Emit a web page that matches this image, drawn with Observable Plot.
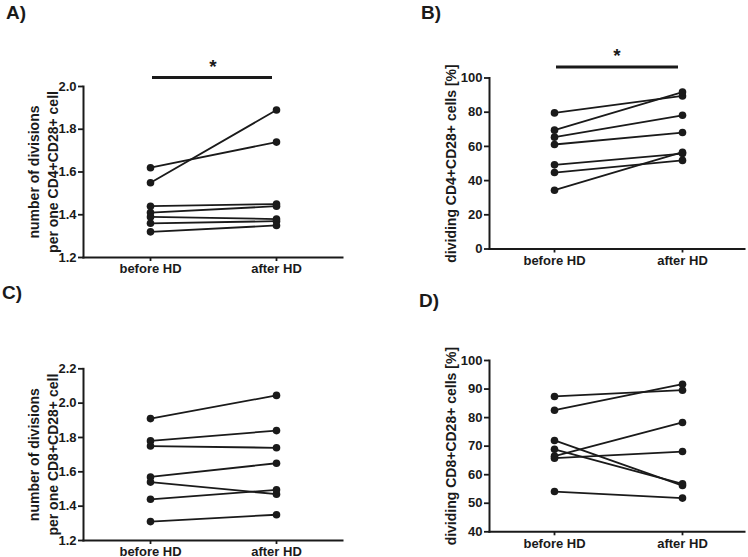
<!DOCTYPE html>
<html><head><meta charset="utf-8">
<script src="https://cdn.jsdelivr.net/npm/d3@7"></script>
<script src="https://cdn.jsdelivr.net/npm/@observablehq/plot@0.6"></script>
<style>
body{margin:0;background:#fff;}
#root{position:relative;width:748px;height:557px;overflow:hidden;font-family:"Liberation Sans",Arial,sans-serif;background:#fff;}
.panel{position:absolute;}
.panel svg{overflow:visible;}
.letter{position:absolute;font-weight:bold;font-size:19px;line-height:1;color:#1a1a1a;}
</style></head><body><div id="root"></div>
<script>
// ---- data ----
const conditions = ["before HD", "after HD"];
const panelLetters = ["A)", "B)", "C)", "D)"];
const yLabels = [
  "number of divisions\nper one CD4+CD28+ cell",
  "dividing CD4+CD28+ cells [%]",
  "number of divisions\nper one CD8+CD28+ cell",
  "dividing CD8+CD28+ cells [%]"
];
// paired values (same index = same patient)
const aBefore = [1.62, 1.55, 1.44, 1.41, 1.39, 1.36, 1.32];
const aAfter  = [1.74, 1.89, 1.45, 1.44, 1.38, 1.37, 1.35];
const bBefore = [79.6, 69.5, 65.4, 61.1, 49.2, 44.7, 34.4];
const bAfter  = [89.5, 91.8, 78.2, 68.1, 55.8, 51.8, 56.6];
const cBefore = [1.91, 1.78, 1.75, 1.57, 1.54, 1.44, 1.31];
const cAfter  = [2.045, 1.84, 1.74, 1.65, 1.47, 1.495, 1.35];
const dBefore = [87.4, 82.6, 72.0, 68.9, 66.5, 65.8, 54.1];
const dAfter  = [89.6, 91.7, 56.2, 56.8, 78.3, 68.1, 51.8];
// y tick values
const aTicks = [1.2, 1.4, 1.6, 1.8, 2.0];
const bTicks = [0, 20, 40, 60, 80, 100];
const cTicks = [1.2, 1.4, 1.6, 1.8, 2.0, 2.2];
const dTicks = [40, 50, 60, 70, 80, 90, 100];
// significance markers
const significance = ["*", "*", null, null];

// ---- layout ----
const ink = "#1a1a1a";
const root = document.getElementById("root");
const panels = [
  {before: aBefore, after: aAfter, ticks: aTicks, fmt: d3.format(".1f"),
   left: 0, top: 0, w: 374, h: 278, mt: 86, mb: 21, ml: 83, mr: 32, pad: 0.52, align: 0.5, labelDx: -41,
   barDy: -9, starDy: -20, letter: {x: 6, y: 2.5}},
  {before: bBefore, after: bAfter, ticks: bTicks, fmt: d3.format("d"),
   left: 374, top: 0, w: 374, h: 278, mt: 77.5, mb: 29.5, ml: 115, mr: 4, pad: 0.496, align: 0.512, labelDx: -39.5,
   barDy: -11, starDy: -22, letter: {x: 421, y: 2.5}},
  {before: cBefore, after: cAfter, ticks: cTicks, fmt: d3.format(".1f"),
   left: 0, top: 278, w: 374, h: 279, mt: 90.3, mb: 17, ml: 83, mr: 32, pad: 0.52, align: 0.5, labelDx: -41,
   barDy: -9, starDy: -20, letter: {x: 2, y: 282.5}},
  {before: dBefore, after: dAfter, ticks: dTicks, fmt: d3.format("d"),
   left: 374, top: 278, w: 374, h: 279, mt: 82, mb: 25.7, ml: 115, mr: 4, pad: 0.496, align: 0.512, labelDx: -39.5,
   barDy: -11, starDy: -22, letter: {x: 419, y: 290.5}}
];

panels.forEach((p, k) => {
  const rows = p.before.flatMap((b, i) => [
    {id: i, cond: conditions[0], v: b},
    {id: i, cond: conditions[1], v: p.after[i]}
  ]);
  const yDomain = [p.ticks[0], p.ticks[p.ticks.length - 1]];
  const sigRows = significance[k] ? [{from: conditions[0], to: conditions[1], label: significance[k]}] : [];
  const chart = Plot.plot({
    width: p.w, height: p.h,
    marginTop: p.mt, marginBottom: p.mb, marginLeft: p.ml, marginRight: p.mr,
    style: {fontFamily: '"Liberation Sans", Arial, sans-serif', fontWeight: "bold", fontSize: "13px", color: ink, background: "transparent", overflow: "visible"},
    x: {type: "point", domain: conditions, padding: p.pad, align: p.align},
    y: {domain: yDomain},
    marks: [
      Plot.axisY({ticks: p.ticks, tickFormat: p.fmt, tickSize: 5, tickPadding: 2, strokeWidth: 1.8, stroke: ink, fill: ink, label: null}),
      Plot.axisX({tickSize: 4, tickPadding: 2.5, strokeWidth: 1.8, stroke: ink, fill: ink, label: null}),
      Plot.frame({anchor: "left", stroke: ink, strokeWidth: 2}),
      Plot.frame({anchor: "bottom", stroke: ink, strokeWidth: 2}),
      Plot.line(rows, {x: "cond", y: "v", z: "id", stroke: ink, strokeWidth: 1.8}),
      Plot.dot(rows, {x: "cond", y: "v", r: 3.8, fill: ink, stroke: "none"}),
      Plot.text([yLabels[k]], {frameAnchor: "left", textAnchor: "middle", lineAnchor: "middle", rotate: -90, dx: p.labelDx, text: d => d, fontSize: 14, lineHeight: 1.36, fill: ink}),
      Plot.ruleY(sigRows, {x1: d => d.from, x2: d => d.to, y: () => yDomain[1], dy: p.barDy, strokeWidth: 3, stroke: ink, insetLeft: 2, insetRight: 4}),
      Plot.text(sigRows, {frameAnchor: "top", lineAnchor: "middle", text: d => d.label, dy: p.starDy, fontSize: 19, fill: ink})
    ]
  });
  const holder = document.createElement("div");
  holder.className = "panel";
  holder.style.left = p.left + "px";
  holder.style.top = p.top + "px";
  holder.appendChild(chart);
  root.appendChild(holder);
  const lt = document.createElement("div");
  lt.className = "letter";
  lt.textContent = panelLetters[k];
  lt.style.left = p.letter.x + "px";
  lt.style.top = p.letter.y + "px";
  root.appendChild(lt);
});
</script>
</body></html>
